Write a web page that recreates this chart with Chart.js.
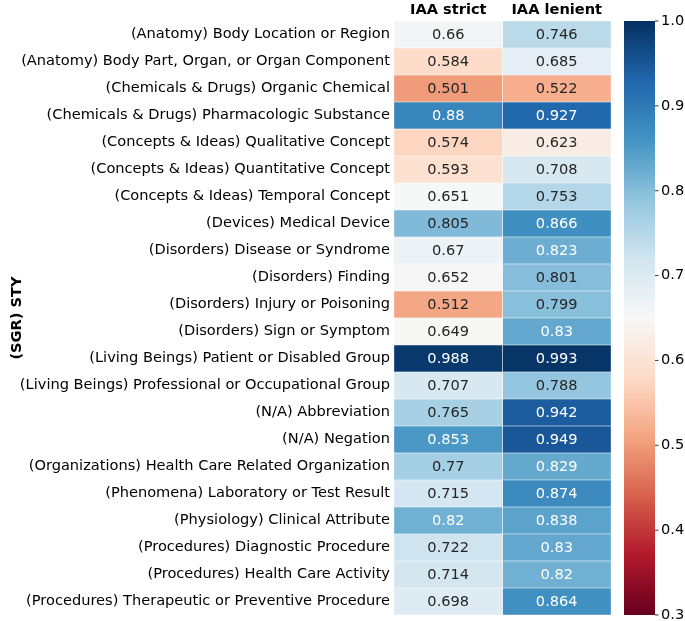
<!DOCTYPE html>
<html><head><meta charset="utf-8">
<script src="https://cdn.jsdelivr.net/npm/chart.js@4.4.1/dist/chart.umd.min.js"></script>
<style>html,body{margin:0;padding:0;background:#fff}canvas{display:block}</style>
</head><body>
<canvas id="c" width="685" height="621"></canvas>
<script>
const rowLabels = [
  '(Anatomy) Body Location or Region',
  '(Anatomy) Body Part, Organ, or Organ Component',
  '(Chemicals & Drugs) Organic Chemical',
  '(Chemicals & Drugs) Pharmacologic Substance',
  '(Concepts & Ideas) Qualitative Concept',
  '(Concepts & Ideas) Quantitative Concept',
  '(Concepts & Ideas) Temporal Concept',
  '(Devices) Medical Device',
  '(Disorders) Disease or Syndrome',
  '(Disorders) Finding',
  '(Disorders) Injury or Poisoning',
  '(Disorders) Sign or Symptom',
  '(Living Beings) Patient or Disabled Group',
  '(Living Beings) Professional or Occupational Group',
  '(N/A) Abbreviation',
  '(N/A) Negation',
  '(Organizations) Health Care Related Organization',
  '(Phenomena) Laboratory or Test Result',
  '(Physiology) Clinical Attribute',
  '(Procedures) Diagnostic Procedure',
  '(Procedures) Health Care Activity',
  '(Procedures) Therapeutic or Preventive Procedure'
];
const columnLabels = ['IAA strict', 'IAA lenient'];
const iaaStrict = [0.66, 0.584, 0.501, 0.88, 0.574, 0.593, 0.651, 0.805, 0.67, 0.652, 0.512, 0.649, 0.988, 0.707, 0.765, 0.853, 0.77, 0.715, 0.82, 0.722, 0.714, 0.698];
const iaaLenient = [0.746, 0.685, 0.522, 0.927, 0.623, 0.708, 0.753, 0.866, 0.823, 0.801, 0.799, 0.83, 0.993, 0.788, 0.942, 0.949, 0.829, 0.874, 0.838, 0.83, 0.82, 0.864];
const colorbarTicks = [0.3, 0.4, 0.5, 0.6, 0.7, 0.8, 0.9, 1.0];
const vmin = 0.3, vmax = 1.0;

const rdbu = [[103,0,31],[178,24,43],[214,96,77],[244,165,130],[253,219,199],[247,247,247],[209,229,240],[146,197,222],[67,147,195],[33,102,172],[5,48,97]];
function cmapRGB(v) {
  let t = (v - vmin) / (vmax - vmin);
  t = Math.max(0, Math.min(1, t));
  const p = t * (rdbu.length - 1);
  const i = Math.min(Math.floor(p), rdbu.length - 2);
  const f = p - i;
  return rdbu[i].map((c, k) => c + (rdbu[i + 1][k] - c) * f);
}
function css(rgb) { return 'rgb(' + rgb.map(Math.round).join(',') + ')'; }
function textColor(v) {
  const lin = cmapRGB(v).map(c => { c /= 255; return c <= 0.03928 ? c / 12.92 : Math.pow((c + 0.055) / 1.055, 2.4); });
  const lum = 0.2126 * lin[0] + 0.7152 * lin[1] + 0.0722 * lin[2];
  return lum > 0.408 ? '#262626' : '#ffffff';
}

const FONT = 'DejaVu Sans';
const FS = 14.6;
const series = [iaaStrict, iaaLenient];
const datasets = series.map((vals, ci) => ({
  label: columnLabels[ci],
  data: vals.map(() => [ci, ci + 1]),
  backgroundColor: vals.map(v => css(cmapRGB(v))),
  borderColor: '#ffffff',
  borderWidth: 0.5,
  borderSkipped: false,
  grouped: false,
  categoryPercentage: 1,
  barPercentage: 1
}));

const cellText = {
  id: 'cellText',
  afterDatasetsDraw(chart) {
    const ctx = chart.ctx;
    ctx.save();
    ctx.font = FS + 'px "' + FONT + '"';
    ctx.textAlign = 'center';
    ctx.textBaseline = 'middle';
    series.forEach((vals, di) => {
      const meta = chart.getDatasetMeta(di);
      meta.data.forEach((el, i) => {
        ctx.fillStyle = textColor(vals[i]);
        ctx.fillText(String(vals[i]), (el.x + el.base) / 2, el.y + 1);
      });
    });
    ctx.restore();
  }
};

const colorbar = {
  id: 'colorbar',
  afterDraw(chart) {
    const s = chart.scales.cb;
    const ctx = chart.ctx;
    const x0 = s.left + 13, w = 31;
    const yTop = s.getPixelForValue(vmax), yBot = s.getPixelForValue(vmin);
    const g = ctx.createLinearGradient(0, yBot, 0, yTop);
    rdbu.forEach((c, i) => g.addColorStop(i / (rdbu.length - 1), css(c)));
    ctx.save();
    ctx.fillStyle = g;
    ctx.fillRect(x0, yTop, w, yBot - yTop);
    ctx.strokeStyle = '#000';
    ctx.lineWidth = 0.8;
    colorbarTicks.forEach(v => {
      const y = s.getPixelForValue(v);
      ctx.beginPath();
      ctx.moveTo(x0 + w, y);
      ctx.lineTo(x0 + w + 3.5, y);
      ctx.stroke();
    });
    ctx.restore();
  }
};

new Chart(document.getElementById('c'), {
  type: 'bar',
  data: { labels: rowLabels, datasets },
  options: {
    indexAxis: 'y',
    responsive: false,
    animation: false,
    events: [],
    layout: { padding: { left: 0, top: 0, right: 0, bottom: 6 } },
    plugins: { legend: { display: false }, tooltip: { enabled: false } },
    scales: {
      x: { type: 'linear', min: 0, max: 2, display: false },
      xTop: {
        type: 'category', position: 'top', labels: columnLabels, offset: true,
        grid: { display: false, drawTicks: false }, border: { display: false },
        ticks: { font: { family: FONT, size: FS, weight: 'bold' }, color: '#000', padding: 2 },
        afterFit(s) { s.height = 21; s.paddingLeft = 0; s.paddingRight = 0; }
      },
      y: {
        type: 'category', position: 'left', offset: true,
        grid: { display: false, drawTicks: false }, border: { display: false },
        ticks: { font: { family: FONT, size: FS }, color: '#000', padding: 4, autoSkip: false },
        title: { display: true, text: '(SGR) STY', font: { family: FONT, size: FS, weight: 'bold' }, color: '#000', padding: { top: 8, bottom: 0 } },
        afterFit(s) { s.width = 394; s.paddingTop = 0; s.paddingBottom = 0; }
      },
      cb: {
        type: 'linear', axis: 'y', position: 'right', min: vmin, max: vmax, offset: false,
        grid: { display: false, drawTicks: false }, border: { display: false },
        ticks: { font: { family: FONT, size: FS }, color: '#000', padding: 50, callback: v => Number(v).toFixed(1) },
        afterBuildTicks(s) { s.ticks = colorbarTicks.map(v => ({ value: v })); },
        afterFit(s) { s.width = 74; s.paddingTop = 0; s.paddingBottom = 0; }
      }
    }
  },
  plugins: [cellText, colorbar]
});
</script>
</body></html>
